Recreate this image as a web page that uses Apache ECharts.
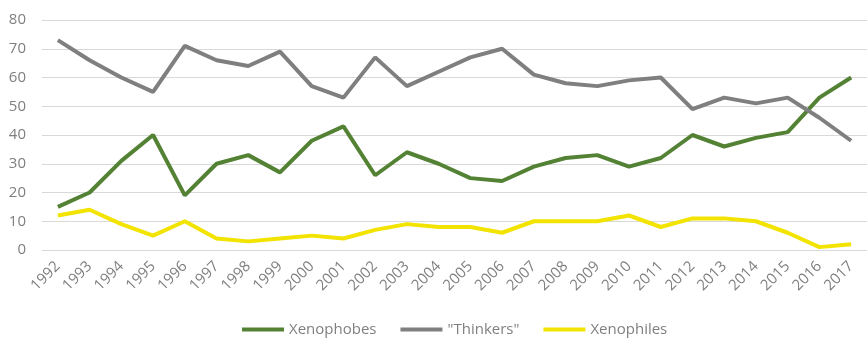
<!DOCTYPE html>
<html>
<head>
<meta charset="utf-8">
<script src="https://cdn.jsdelivr.net/npm/echarts@6/dist/echarts.min.js"></script>
<style>
  html, body { margin: 0; padding: 0; background: #fff; }
  #main { width: 867px; height: 345px; }
</style>
</head>
<body>
<div id="main"></div>
<script>
// years on the x axis
const years = ["1992","1993","1994","1995","1996","1997","1998","1999","2000","2001","2002","2003","2004",
  "2005","2006","2007","2008","2009","2010","2011","2012","2013","2014","2015","2016","2017"];

const xenophobes = [15, 20, 31, 40, 19, 30, 33, 27, 38, 43, 26, 34, 30, 25, 24, 29, 32, 33, 29, 32, 40, 36, 39, 41, 53, 60];
const thinkers   = [73, 66, 60, 55, 71, 66, 64, 69, 57, 53, 67, 57, 62, 67, 70, 61, 58, 57, 59, 60, 49, 53, 51, 53, 46, 38];
const xenophiles = [12, 14, 9, 5, 10, 4, 3, 4, 5, 4, 7, 9, 8, 8, 6, 10, 10, 10, 12, 8, 11, 11, 10, 6, 1, 2];

const seriesNames = ["Xenophobes", "\"Thinkers\"", "Xenophiles"];
const colors = ["#548235", "#7f7f7f", "#f2e300"];

const myChart = echarts.init(document.getElementById("main"));
const font = "'Open Sans', sans-serif";

function line(name, data, color) {
  return {
    name: name,
    type: "line",
    data: data,
    symbol: "none",
    lineStyle: { color: color, width: 4 },
    itemStyle: { color: color },
    animation: false
  };
}

const option = {
  animation: false,
  grid: { left: 42, right: 0, top: 20, bottom: 95 },
  legend: {
    bottom: 3,
    left: 237,
    itemWidth: 42,
    itemHeight: 4,
    itemGap: 24,
    icon: "rect",
    textStyle: { color: "#7f7f7f", fontSize: 15, fontFamily: font },
    data: seriesNames
  },
  xAxis: {
    type: "category",
    data: years,
    boundaryGap: true,
    axisLine: { show: false },
    axisTick: { show: false },
    axisLabel: {
      interval: 0,
      rotate: 45,
      color: "#7f7f7f",
      fontSize: 15,
      fontFamily: font,
      margin: 14
    }
  },
  yAxis: {
    type: "value",
    min: 0,
    max: 80,
    interval: 10,
    axisLine: { show: false },
    axisTick: { show: false },
    splitLine: { lineStyle: { color: "#d9d9d9", width: 1 } },
    axisLabel: { color: "#7f7f7f", fontSize: 15, fontFamily: font, margin: 16 }
  },
  series: [
    line(seriesNames[0], xenophobes, colors[0]),
    line(seriesNames[1], thinkers, colors[1]),
    line(seriesNames[2], xenophiles, colors[2])
  ]
};
myChart.setOption(option);
</script>
</body>
</html>
